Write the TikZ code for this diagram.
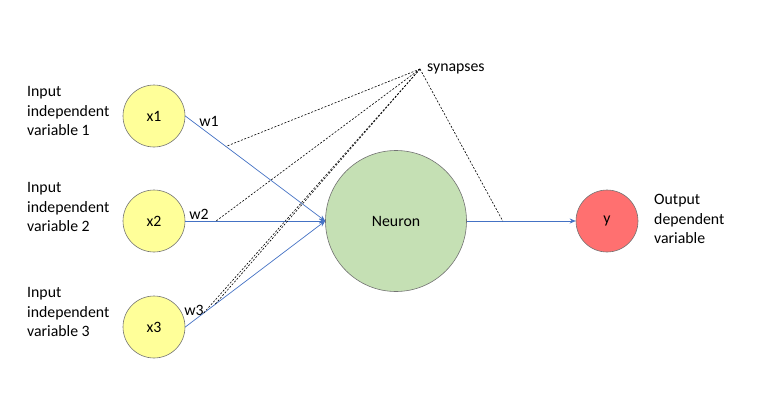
\documentclass[tikz,border=0pt]{standalone}
\usepackage{fontspec}
\setmainfont{Carlito}
\usetikzlibrary{arrows.meta}
\definecolor{InputClr}{rgb}{1,1,0.6}
\definecolor{NeuronClr}{rgb}{0.773,0.878,0.706}
\definecolor{OutputClr}{rgb}{1,0.44,0.44}
\definecolor{LinkClr}{rgb}{0.267,0.447,0.769}
\definecolor{RimClr}{rgb}{0.45,0.45,0.45}

\begin{document}
\begin{tikzpicture}[x=1pt,y=-1pt,
  font=\fontsize{15.8}{19.5}\selectfont,
  unit/.style={circle,draw=RimClr,line width=0.6pt,inner sep=0pt},
  inp/.style={unit,fill=InputClr,minimum size=62pt},
  neuron/.style={unit,fill=NeuronClr,minimum size=141pt},
  outp/.style={unit,fill=OutputClr,minimum size=62pt},
  link/.style={draw=LinkClr,line width=0.7pt,-{Stealth[length=6pt,width=5pt]}},
  syn/.style={line width=0.6pt,dash pattern=on 2pt off 1.6pt},
  caption/.style={align=left,anchor=west,inner sep=0pt}]
\useasboundingbox (0,0) rectangle (779,407);

% units
\node[inp] (x1) at (154,116) {x1};
\node[inp] (x2) at (154,221) {x2};
\node[inp] (x3) at (154,327) {x3};
\node[neuron] (n) at (396,221) {Neuron};
\node[outp] (y) at (607,221) {y};

% captions
\node[caption] (c1) at (27,111) {Input\\independent\\variable 1};
\node[caption] (c2) at (27,207) {Input\\independent\\variable 2};
\node[caption] (c3) at (27,312) {Input\\independent\\variable 3};
\node[caption] (co) at (654,219) {Output\\dependent\\variable};

% weights
\node[inner sep=0pt] (w1) at (209,121) {w1};
\node[inner sep=0pt] (w2) at (199,214) {w2};
\node[inner sep=0pt] (w3) at (194,310) {w3};

% connections
\draw[link] (x1.east) -- (n.west) coordinate[pos=.29] (s1);
\draw[link] (x2.east) -- (n.west) coordinate[pos=.22] (s2);
\draw[link] (x3.east) -- (n.west) coordinate[pos=.13] (s3) coordinate[pos=.21] (s4);
\draw[link] (n.east) -- (y.west) coordinate[pos=.33] (s5);

% synapses
\coordinate (syn) at (420,69);
\node[caption] (st) at (427,69) {synapses};
\foreach \s in {s1,s2,s3,s4,s5}
  \draw[syn] (syn) -- (\s);

\end{tikzpicture}
\end{document}
